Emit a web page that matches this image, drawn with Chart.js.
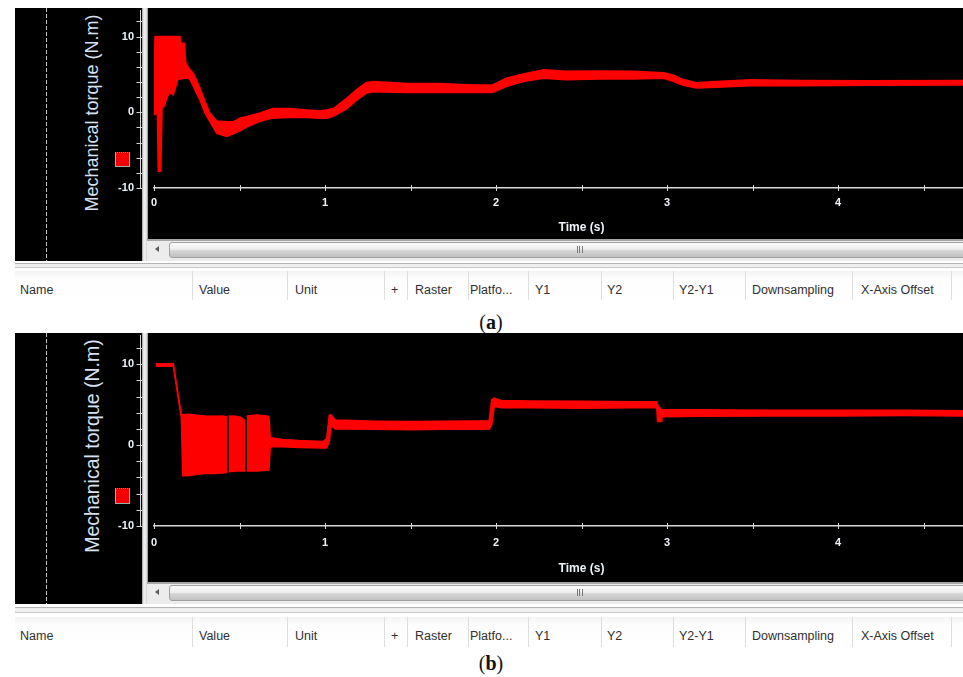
<!DOCTYPE html>
<html>
<head>
<meta charset="utf-8">
<script src="https://cdn.jsdelivr.net/npm/chart.js@4.4.0/dist/chart.umd.min.js"></script>
<style>
  html, body { margin: 0; padding: 0; background: #fff; }
  body { position: relative; width: 963px; height: 677px; overflow: hidden; font-family: 'Liberation Sans', Arial, sans-serif; }
  .scope { position: absolute; left: 15px; width: 948px; background: #000; }
  .dash { position: absolute; left: 46px; width: 1px; background: repeating-linear-gradient(to bottom, #c4c4c4 0 4px, transparent 4px 6px); }
  .split { position: absolute; left: 142px; width: 6px; background: linear-gradient(to right, #8a8a8a 0, #dcdcdc 1px, #f4f4f4 3px, #cfcfcf 5px, #7c7c7c 6px); }
  .ytitle { position: absolute; left: 92px; color: #d6e1f1; white-space: nowrap; transform: translate(-50%, -50%) rotate(-90deg); }
  .swatch { position: absolute; left: 115px; width: 13px; background: #f40000; border: 1px solid #a8a8a8; border-top-style: dotted; }
  .scroll { position: absolute; left: 147px; width: 816px; height: 22px; box-sizing: border-box; background: #ececec; border-top: 2px solid #a6a6a6; }
  .arrow { position: absolute; left: 8px; top: 5px; width: 0; height: 0; border-right: 4px solid #5a5a5a; border-top: 3.5px solid transparent; border-bottom: 3.5px solid transparent; }
  .thumb { position: absolute; left: 22px; right: -20px; top: 1px; bottom: 3px; border: 1px solid #a0a0a0; border-radius: 3px; background: linear-gradient(#fbfbfb, #ededed 45%, #d6d6d6 55%, #c2c2c2); }
  .grip { position: absolute; left: 407px; top: 3px; width: 7px; height: 7px; background: repeating-linear-gradient(to right, #7a7a7a 0 1px, transparent 1px 2.5px); }
  .rule { position: absolute; left: 15px; width: 948px; box-sizing: border-box; background: #efefef; border-top: 1px solid #b4b4b4; border-bottom: 1px solid #c8c8c8; }
  .header { position: absolute; left: 15px; width: 948px; background: linear-gradient(#f2f2f2, #fdfdfd 25%, #fff); }
  .header span { position: absolute; font-size: 12.5px; line-height: 14px; color: #303030; white-space: nowrap; }
  .header i { position: absolute; top: 0; bottom: 0; width: 1px; background: #dedede; }
  .caption { position: absolute; left: 0; width: 982px; text-align: center; font-family: 'Liberation Serif', 'DejaVu Serif', serif; font-size: 20px; line-height: 22px; color: #111; }
  canvas { position: absolute; left: 15px; }
</style>
</head>
<body>

<!-- panel (a) -->
<div class="scope" style="top:8px;height:253px"></div>
<div class="dash" style="top:8px;height:253px"></div>
<div class="split" style="top:8px;height:253px"></div>
<div class="ytitle" style="top:113px;font-size:18px">Mechanical torque (N.m)</div>
<div class="swatch" style="top:152px;height:13px"></div>
<div class="scroll" style="top:239px"><div class="arrow"></div><div class="thumb"><div class="grip"></div></div></div>
<canvas id="scopeA" width="1000" height="230" style="top:8px"></canvas>
<div class="rule" style="top:263px;height:5px"></div>
<div class="header" id="headA" style="top:271px;height:29px"></div>
<div class="caption" style="top:311px">(<b>a</b>)</div>

<!-- panel (b) -->
<div class="scope" style="top:333px;height:271px"></div>
<div class="dash" style="top:333px;height:271px"></div>
<div class="split" style="top:333px;height:271px"></div>
<div class="ytitle" style="top:446px;font-size:19.5px">Mechanical torque (N.m)</div>
<div class="swatch" style="top:488px;height:14px"></div>
<div class="scroll" style="top:582px"><div class="arrow"></div><div class="thumb"><div class="grip"></div></div></div>
<canvas id="scopeB" width="1000" height="249" style="top:333px"></canvas>
<div class="rule" style="top:607px;height:6px"></div>
<div class="header" id="headB" style="top:617px;height:30px"></div>
<div class="caption" style="top:652px">(<b>b</b>)</div>

<script>
// axis ticks and labels
const timeTicks = [0, 0.5, 1, 1.5, 2, 2.5, 3, 3.5, 4, 4.5, 5];
const timeLabels = [0, 1, 2, 3, 4, 5];
const torqueTicks = [-10, -8, -6, -4, -2, 0, 2, 4, 6, 8, 10, 12];
const torqueLabels = [-10, 0, 10];

// (a) torque envelope: upper / lower edge of the trace band (N.m)
const timeA = [0, 0.006, 0.02, 0.025, 0.04, 0.047, 0.06, 0.074, 0.09, 0.105,
  0.113, 0.125, 0.14, 0.152, 0.155, 0.178, 0.185, 0.2, 0.211, 0.23,
  0.269, 0.298, 0.327, 0.367, 0.425, 0.464, 0.503, 0.542, 0.62, 0.696,
  0.795, 0.893, 0.971, 1.01, 1.05, 1.09, 1.13, 1.185, 1.24, 1.28,
  1.48, 1.67, 1.87, 1.98, 2.06, 2.16, 2.28, 2.41, 2.61, 2.8,
  2.98, 3.04, 3.09, 3.17, 3.29, 3.49, 3.78, 4.17, 4.73, 5.0];
const upperA = [4.5, 10, 10, 10, 10, 10, 10, 10, 10, 10,
  10, 10, 10, 10, 9.1, 9.1, 6.6, 6.0, 5.6, 5.15,
  3.2, 1.4, -0.1, -1.15, -1.25, -1.25, -0.8, -0.55, -0.1, 0.5,
  0.5, 0.3, 0.2, 0.3, 0.5, 1.2, 1.9, 3.0, 3.9, 4.05,
  3.8, 3.8, 3.6, 3.6, 4.5, 5.05, 5.6, 5.4, 5.45, 5.4,
  5.2, 4.9, 4.35, 3.9, 4.05, 4.3, 4.2, 4.15, 4.2, 4.2];
const lowerA = [-0.3, -0.3, -0.1, -7.8, -7.8, 0.6, 0.8, 1.8, 2.6, 2.4,
  2.3, 3.2, 4.4, 4.4, 4.4, 4.5, 4.5, 4.5, 4.3, 3.4,
  1.6, -0.1, -1.25, -2.8, -3.2, -2.85, -2.45, -1.95, -1.2, -0.75,
  -0.7, -0.7, -0.8, -0.8, -0.5, 0.0, 0.5, 1.6, 2.5, 2.7,
  2.6, 2.6, 2.6, 2.6, 3.4, 4.05, 4.5, 4.3, 4.4, 4.4,
  4.5, 4.05, 3.6, 3.2, 3.3, 3.5, 3.5, 3.55, 3.6, 3.6];

// (b) torque envelope, null = short break in the oscillation burst
const timeB = [0.01, 0.113, 0.16, 0.168, 0.2, 0.25, 0.3, 0.35, 0.4, 0.428,
  0.432, 0.436, 0.48, 0.51, 0.534, 0.538, 0.542, 0.6, 0.66, 0.672,
  0.68, 0.75, 0.85, 0.99, 1.01, 1.025, 1.035, 1.06, 1.3, 1.5,
  1.7, 1.96, 1.975, 1.99, 2.03, 2.2, 2.5, 2.8, 2.94, 2.945,
  2.965, 2.97, 3.2, 3.6, 4.0, 4.4, 4.73, 5.0];
const upperB = [10.05, 10.05, 3.7, 3.75, 3.8, 3.7, 3.6, 3.55, 3.6, 3.5,
  null, 3.6, 3.55, 3.4, 3.0, null, 3.6, 3.7, 3.6, 3.5,
  0.9, 0.7, 0.55, 0.45, 0.8, 3.7, 3.75, 3.1, 2.95, 2.9,
  2.95, 3.0, 5.6, 5.8, 5.5, 5.45, 5.4, 5.35, 5.35, 5.0,
  4.4, 4.4, 4.35, 4.3, 4.3, 4.3, 4.25, 4.25];
const lowerB = [9.75, 9.75, 3.35, -3.8, -3.8, -3.6, -3.5, -3.5, -3.45, -3.4,
  null, -3.3, -3.2, -3.2, -3.2, null, -3.2, -3.2, -3.1, -3.1,
  -0.2, -0.2, -0.3, -0.35, -0.35, 0.5, 2.4, 2.0, 1.95, 1.9,
  1.95, 1.95, 2.5, 4.8, 4.6, 4.6, 4.55, 4.6, 4.6, 2.9,
  2.9, 3.5, 3.55, 3.6, 3.6, 3.65, 3.6, 3.6];

// signal list header
const columns = ['Name', 'Value', 'Unit', '+', 'Raster', 'Platfo...', 'Y1', 'Y2', 'Y2-Y1', 'Downsampling', 'X-Axis Offset'];
const columnText = [20, 199, 295, 391, 415, 470, 535, 607, 679, 752, 861];
const columnRules = [192, 287, 384, 407, 468, 528, 601, 673, 745, 852, 951];

function buildHeader(id, textTop) {
  const row = document.getElementById(id);
  columnRules.forEach(x => {
    const r = document.createElement('i');
    r.style.left = (x - 15) + 'px';
    row.appendChild(r);
  });
  columns.forEach((name, i) => {
    const s = document.createElement('span');
    s.textContent = name;
    s.style.left = (columnText[i] - 15) + 'px';
    s.style.top = textTop + 'px';
    row.appendChild(s);
  });
}
buildHeader('headA', 12);
buildHeader('headB', 12);

const TRACE = '#ff0000';
const AXIS = '#d8d8d8';
const LABEL = '#eef3fa';
const FONT = "'Liberation Sans', Arial, sans-serif";

// axis line with tick marks left of the splitter, and cross ticks on the time axis
const scopeAxes = {
  id: 'scopeAxes',
  afterDraw(chart) {
    const { ctx, chartArea, scales: { x, y } } = chart;
    const ax = chartArea.left - 13.5;
    ctx.save();
    ctx.strokeStyle = AXIS;
    ctx.lineWidth = 1;
    ctx.beginPath();
    ctx.moveTo(ax, chartArea.top);
    ctx.lineTo(ax, chartArea.bottom);
    y.ticks.forEach(t => {
      const py = Math.round(y.getPixelForValue(t.value)) + 0.5;
      ctx.moveTo(ax - 4, py);
      ctx.lineTo(ax + 1.5, py);
    });
    x.ticks.forEach(t => {
      const px = Math.round(x.getPixelForValue(t.value)) + 0.5;
      ctx.moveTo(px, chartArea.bottom - 3);
      ctx.lineTo(px, chartArea.bottom + 3);
    });
    ctx.stroke();
    ctx.restore();
  }
};

function scopeChart(id, time, upper, lower, cfg) {
  return new Chart(document.getElementById(id), {
    type: 'line',
    data: {
      datasets: [
        { data: time.map((t, i) => ({ x: t, y: upper[i] })), borderColor: TRACE, borderWidth: 1.5,
          pointRadius: 0, tension: 0, fill: false },
        { data: time.map((t, i) => ({ x: t, y: lower[i] })), borderColor: TRACE, borderWidth: 1.5,
          pointRadius: 0, tension: 0, fill: '-1', backgroundColor: TRACE }
      ]
    },
    options: {
      responsive: false,
      animation: false,
      events: [],
      layout: { padding: { top: 2, right: 6, left: 0, bottom: 0 } },
      plugins: { legend: { display: false }, tooltip: { enabled: false } },
      scales: {
        x: {
          type: 'linear', min: 0, max: 5,
          afterBuildTicks: s => { s.ticks = timeTicks.map(v => ({ value: v })); },
          // fixed axis band; no extra room reserved for the end labels
          afterFit: s => { s.height = cfg.axisHeight; s.paddingLeft = 0; s.paddingRight = 0; },
          grid: { display: false, drawTicks: false },
          border: { display: true, color: AXIS, width: 1.5 },
          ticks: {
            autoSkip: false, maxRotation: 0, minRotation: 0, padding: cfg.tickPad,
            color: LABEL, font: { family: FONT, size: 11, weight: 'bold' },
            callback: v => timeLabels.includes(v) ? String(v) : ''
          },
          title: {
            display: true, text: 'Time (s)', color: LABEL,
            font: { family: FONT, size: 12, weight: 'bold' },
            padding: { top: 0, bottom: cfg.titlePad }
          }
        },
        y: {
          min: -10, max: cfg.yMax,
          afterBuildTicks: s => { s.ticks = torqueTicks.map(v => ({ value: v })); },
          afterFit: s => { s.width = 139; s.paddingTop = 0; s.paddingBottom = 0; },
          grid: { display: false, drawTicks: false },
          border: { display: false },
          ticks: {
            autoSkip: false, padding: 20,
            color: LABEL, font: { family: FONT, size: 11, weight: 'bold' },
            callback: v => torqueLabels.includes(v) ? String(v) : ''
          }
        }
      }
    },
    plugins: [scopeAxes]
  });
}

scopeChart('scopeA', timeA, upperA, lowerA, { axisHeight: 50, tickPad: 8, titlePad: 3, yMax: 13.5 });
scopeChart('scopeB', timeB, upperB, lowerB, { axisHeight: 56, tickPad: 10, titlePad: 6, yMax: 13.6 });
</script>
</body>
</html>
